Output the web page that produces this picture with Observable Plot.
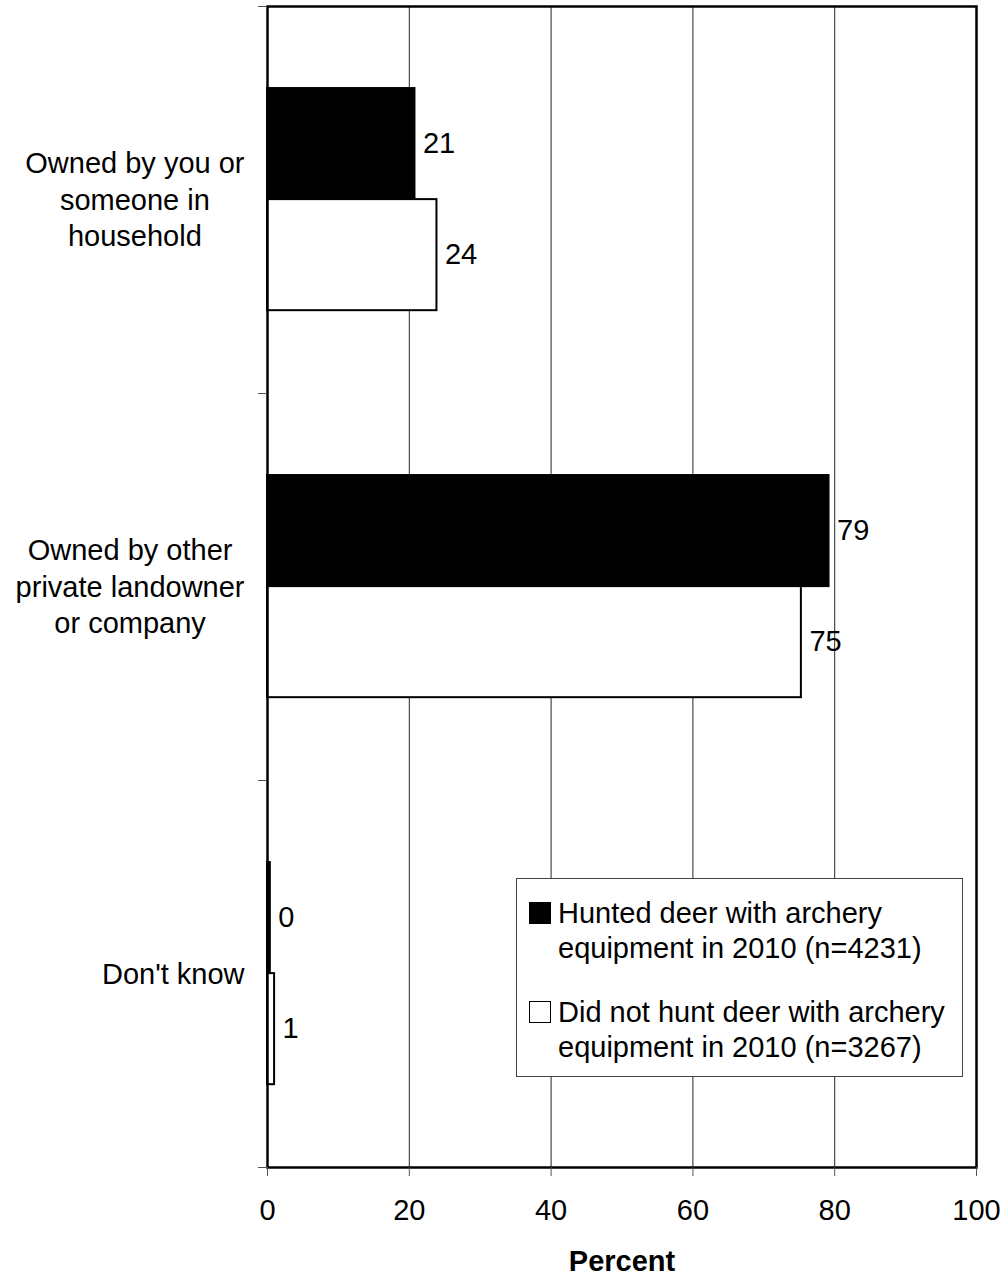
<!DOCTYPE html>
<html>
<head>
<meta charset="utf-8">
<script src="https://cdn.jsdelivr.net/npm/d3@7"></script>
<script src="https://cdn.jsdelivr.net/npm/@observablehq/plot@0.6"></script>
<style>
  html, body { margin: 0; padding: 0; background: #fff; overflow: hidden; }
  #wrap { position: relative; width: 1006px; height: 1276px; font-family: "Liberation Sans", Arial, sans-serif; }
  #legend { position: absolute; left: 516px; top: 878px; width: 447px; height: 199px; box-sizing: border-box; border: 1.5px solid #444; background: #fff; }
  .sw { position: absolute; left: 12px; width: 22px; height: 22px; box-sizing: border-box; border: 1.5px solid #000; }
  .lt { position: absolute; left: 41px; font-size: 29px; line-height: 35px; color: #000; white-space: nowrap; }
</style>
</head>
<body>
<div id="wrap"></div>
<script>
// ---- data ----
const categories = [
  "Owned by you or someone in household",
  "Owned by other private landowner or company",
  "Don't know"
];
const categoryLabels = [
  "Owned by you or\nsomeone in\nhousehold",
  "Owned by other\nprivate landowner\nor company",
  "Don't know"
];
const seriesNames = [
  "Hunted deer with archery equipment in 2010 (n=4231)",
  "Did not hunt deer with archery equipment in 2010 (n=3267)"
];
const seriesLegendLines = [
  ["Hunted deer with archery", "equipment in 2010 (n=4231)"],
  ["Did not hunt deer with archery", "equipment in 2010 (n=3267)"]
];
const hunted = [20.8, 79.2, 0.4];
const notHunted = [23.9, 75.3, 1.0];
const xTicks = [0, 20, 40, 60, 80, 100];
const gridTicks = [20, 40, 60, 80];
const xLabel = "Percent";

// ---- layout ----
const W = 1006, H = 1276;
const mL = 267, mR = 30, mT = 6, mB = 109;
const step = (H - mT - mB) / categories.length;
const fs = 29;
const font = "Liberation Sans, Arial, sans-serif";

const rowsH = categories.map((c, i) => ({category: c, value: hunted[i]}));
const rowsN = categories.map((c, i) => ({category: c, value: notHunted[i]}));

// bar placement inside each category band (fractions of the band)
const o = 0.212, f = 0.287;
const hTop = o * step, hBot = (1 - o - f) * step;
const nTop = (o + f) * step, nBot = (1 - o - 2 * f) * step;
const hMid = (o + f / 2 - 0.5) * step;
const nMid = (o + 1.5 * f - 0.5) * step;

// measure label widths for centered multi-line labels, right edge 23px from axis
const ctx = document.createElement("canvas").getContext("2d");
ctx.font = `${fs}px "Liberation Sans"`;
const labelMarks = categories.map((c, i) => {
  const lines = categoryLabels[i].split("\n");
  const w = Math.max(...lines.map(l => ctx.measureText(l).width));
  return Plot.text([c], {
    y: d => d, text: () => categoryLabels[i], frameAnchor: "left",
    textAnchor: "middle", lineAnchor: "middle", lineHeight: 1.26,
    dx: -(23 + w / 2), dy: -2, fontSize: fs, fill: "#000"
  });
});

const chart = Plot.plot({
  width: W, height: H,
  marginLeft: mL, marginRight: mR, marginTop: mT, marginBottom: mB,
  style: {fontFamily: font, fontSize: fs + "px", color: "#000", background: "#fff"},
  x: {domain: [0, 100], axis: null},
  y: {domain: categories, padding: 0, axis: null},
  marks: [
    Plot.gridX(gridTicks, {stroke: "#000", strokeOpacity: 0.85, strokeWidth: 1}),
    Plot.barX(rowsH, {x: "value", y: "category", fill: "#000", stroke: "#000", strokeWidth: 2, insetTop: hTop, insetBottom: hBot}),
    Plot.barX(rowsN, {x: "value", y: "category", fill: "#fff", stroke: "#000", strokeWidth: 2, insetTop: nTop, insetBottom: nBot}),
    Plot.text(rowsH, {x: "value", y: "category", text: d => d3.format(".0f")(d.value), dx: 8, dy: hMid, textAnchor: "start", fontSize: fs, fill: "#000"}),
    Plot.text(rowsN, {x: "value", y: "category", text: d => d3.format(".0f")(d.value), dx: 8, dy: nMid, textAnchor: "start", fontSize: fs, fill: "#000"}),
    Plot.frame({stroke: "#000", strokeWidth: 2.5}),
    Plot.axisX(xTicks, {tickSize: 9, tickPadding: 23, fontSize: fs, label: null, stroke: "#555", fill: "#000"}),
    Plot.axisY(categories, {tickSize: 9, dy: -step / 2, fill: "none", stroke: "#555", label: null}),
    Plot.axisY([categories[categories.length - 1]], {tickSize: 9, dy: step / 2, fill: "none", stroke: "#555", label: null}),
    ...labelMarks,
    Plot.text([xLabel], {text: d => d, frameAnchor: "bottom", dy: 103, fontWeight: "bold", fontSize: fs, fill: "#000"})
  ]
});

const wrap = document.getElementById("wrap");
wrap.appendChild(chart);

// ---- legend ----
const legend = document.createElement("div");
legend.id = "legend";
const swFill = ["#000", "#fff"];
const itemTop = [16.5, 115.5];
seriesNames.forEach((s, i) => {
  const sw = document.createElement("div");
  sw.className = "sw";
  sw.style.top = (itemTop[i] + 6) + "px";
  sw.style.background = swFill[i];
  legend.appendChild(sw);
  const t = document.createElement("div");
  t.className = "lt";
  t.style.top = itemTop[i] + "px";
  t.title = s;
  t.innerHTML = seriesLegendLines[i].join("<br>");
  legend.appendChild(t);
});
wrap.appendChild(legend);
</script>
</body>
</html>
